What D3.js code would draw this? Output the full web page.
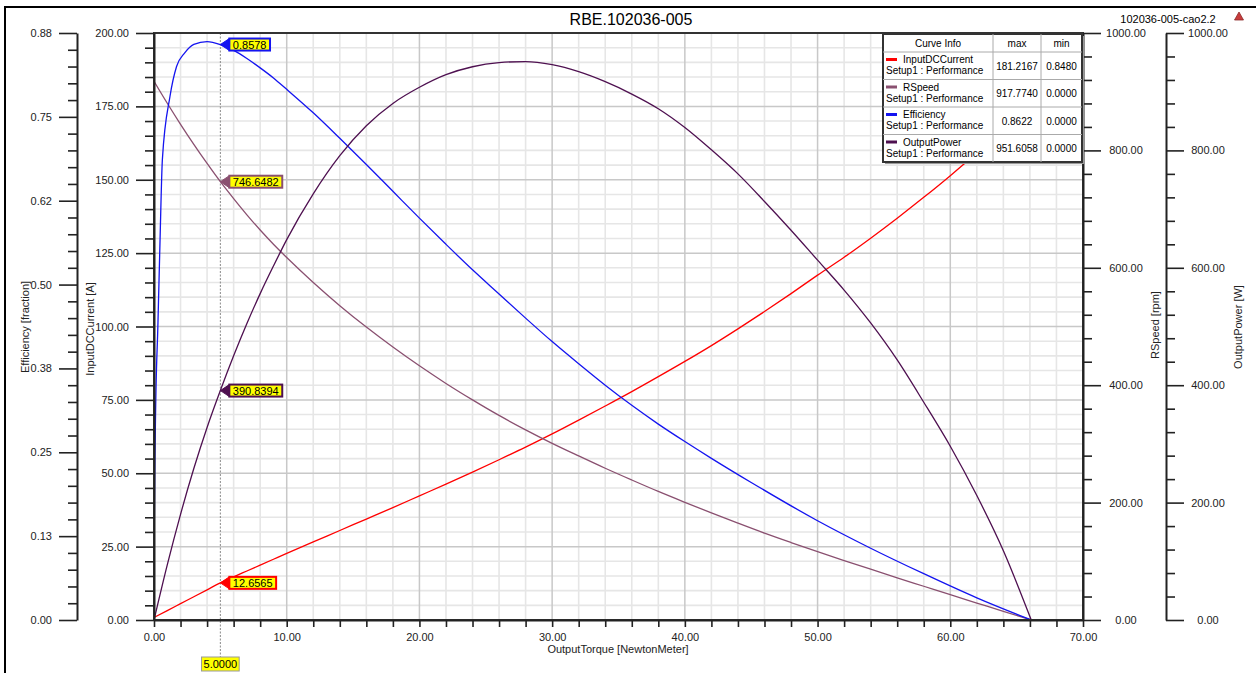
<!DOCTYPE html>
<html><head><meta charset="utf-8">
<script src="https://cdn.jsdelivr.net/npm/d3@7"></script>
<style>body{margin:0;background:#fff}svg{display:block;font-family:"Liberation Sans",Arial,sans-serif}</style>
</head><body><svg id="c" width="1256" height="673"></svg>
<script>
// ---------- DATA ----------
const torque = [0,1,2,3,4,5,6,7,8,9,10,12,14,16,18,20,22,24,26,28,30,32,34,36,38,40,42,44,46,48,50,52,54,56,58,60,62,64,66.1];
const inputDCCurrent = [0.848,3.21,5.57,7.93,10.29,12.6565,14.7,16.7,18.7,20.7,22.7,26.6,30.5,34.4,38.3,42.3,46.3,50.4,54.6,58.9,63.4,68.1,72.9,77.8,82.9,88.1,93.5,99.2,105.1,111.2,117.5,123.6,130.1,136.9,144.0,151.4,159.2,167.8,181.2167];
const rSpeed = [917.774,880.3,844.5,810.3,777.7,746.6482,717.8,690.2,664.3,640.1,617.5,575,535.5,499,465,433,403,375,348.5,324,301,279.5,258.5,238.5,219,200.5,182.5,165,148,132,116.5,101.3,86.5,71.9,57.5,43.1,28.9,14.7,0];
const outputPower = [0,94,180,258,328,390.8394,450,505,556,603,648,726,791,842,880,907.5,929,942.5,949.5,951.4,946,934,917,896,871,839,801,760,713,664,613,562,506,443,371,296,212,118,0];
const effTorque = [0,0.02,0.1,0.3,0.45,0.63,1.2,1.7,2.3,3,4,5,6,7,8,9,10,12,14,16,18,20,22,24,26,28,30,32,34,36,38,40,42,45,50,54,58,62,66.1];
const efficiency = [0,0.12,0.283,0.444,0.562,0.686,0.780,0.825,0.845,0.858,0.8622,0.8578,0.849,0.837,0.823,0.808,0.791,0.756,0.718,0.679,0.639,0.599,0.560,0.522,0.486,0.450,0.415,0.382,0.350,0.320,0.292,0.266,0.241,0.205,0.148,0.107,0.069,0.033,0];

const seriesNames = ["InputDCCurrent","RSpeed","Efficiency","OutputPower"];
const seriesColors = ["#ff0000","#8a5070","#1414f0","#4e1050"];
const legendMax = ["181.2167","917.7740","0.8622","951.6058"];
const legendMin = ["0.8480","0.0000","0.0000","0.0000"];
const legendSub = "Setup1 : Performance";

const xTicks = [0,10,20,30,40,50,60,70];
const currentTicks = [0,25,50,75,100,125,150,175,200];
const effTicks = [0,0.125,0.25,0.375,0.5,0.625,0.75,0.875];
const effTickLabels = ["0.00","0.13","0.25","0.38","0.50","0.62","0.75","0.88"];
const rightTicks = [0,200,400,600,800,1000];
const markerTorque = 5;

const title = "RBE.102036-005";
const subTitle = "102036-005-cao2.2";

// ---------- LAYOUT ----------
const svg = d3.select("#c");
const L = 154, R = 1083, T = 33, B = 620;
const x = d3.scaleLinear([0,70],[L,R]);
const yCur = d3.scaleLinear([0,200],[B,T]);
const yEff = d3.scaleLinear([0,0.875],[B,T]);
const ySpd = d3.scaleLinear([0,1000],[B,T]);
const yPow = d3.scaleLinear([0,1000],[B,T]);
const font = 11;

svg.append("rect").attr("width",1256).attr("height",673).attr("fill","#fff");
svg.append("path").attr("d","M5,673 L5,7 L1256,7").attr("fill","none").attr("stroke","#000").attr("stroke-width",2);

svg.append("text").attr("x",631).attr("y",25).attr("text-anchor","middle").attr("font-size",16).text(title);
svg.append("text").attr("x",1168).attr("y",23).attr("text-anchor","middle").attr("font-size",11).text(subTitle);
svg.append("path").attr("d","M1239,12 L1243.5,20 L1234.5,20 Z").attr("fill","#c83c3c").attr("stroke","#8a2a2a").attr("stroke-width",0.8);

// grid
const g = svg.append("g");
const minorX = d3.range(0,71,2).filter(v=>v%10!==0);
const minorY = d3.range(0,201,5).filter(v=>v%25!==0);
g.selectAll(".mx").data(minorX).join("line").attr("x1",d=>x(d)).attr("x2",d=>x(d)).attr("y1",T).attr("y2",B).attr("stroke","#e6e6e6").attr("stroke-width",1.6);
g.selectAll(".my").data(minorY).join("line").attr("y1",d=>yCur(d)).attr("y2",d=>yCur(d)).attr("x1",L).attr("x2",R).attr("stroke","#e6e6e6").attr("stroke-width",1.6);
g.selectAll(".Mx").data(xTicks).join("line").attr("x1",d=>x(d)).attr("x2",d=>x(d)).attr("y1",T).attr("y2",B).attr("stroke","#c8c8c8").attr("stroke-width",1.5);
g.selectAll(".My").data(currentTicks).join("line").attr("y1",d=>yCur(d)).attr("y2",d=>yCur(d)).attr("x1",L).attr("x2",R).attr("stroke","#c8c8c8").attr("stroke-width",1.5);

// marker vertical line
svg.append("line").attr("x1",x(markerTorque)).attr("x2",x(markerTorque)).attr("y1",T).attr("y2",657)
  .attr("stroke","#888").attr("stroke-width",1).attr("stroke-dasharray","2,1.5");

// curves
svg.append("clipPath").attr("id","clp").append("rect").attr("x",L).attr("y",T-2).attr("width",R-L).attr("height",B-T+4);
const curves = svg.append("g").attr("clip-path","url(#clp)");
function drawLine(xs, ys, yScale, color){
  const data = xs.map((t,i)=>[t,ys[i]]);
  curves.append("path").datum(data)
    .attr("d", d3.line().x(d=>x(d[0])).y(d=>yScale(d[1])).curve(d3.curveMonotoneX))
    .attr("fill","none").attr("stroke",color).attr("stroke-width",1.3);
}
drawLine(torque, inputDCCurrent, yCur, seriesColors[0]);
drawLine(torque, rSpeed, ySpd, seriesColors[1]);
drawLine(effTorque, efficiency, yEff, seriesColors[2]);
drawLine(torque, outputPower, yPow, seriesColors[3]);

function styleAxis(sel, width){
  sel.selectAll("path.domain").attr("stroke","#222").attr("stroke-width",width||2);
  sel.selectAll(".tick line").attr("stroke","#222").attr("stroke-width",1.6);
  sel.selectAll(".tick text").attr("font-size",font).attr("fill","#222").attr("font-family","Liberation Sans, Arial, sans-serif");
}

svg.append("rect").attr("x",L).attr("y",T).attr("width",R-L).attr("height",B-T).attr("fill","none").attr("stroke","#333").attr("stroke-width",2);

// X axis
const xa = svg.append("g").attr("transform",`translate(0,${B})`)
  .call(d3.axisBottom(x).tickValues(d3.range(0,71,2)).tickSize(7).tickSizeOuter(0).tickPadding(6)
  .tickFormat(d=> d%10===0 ? d3.format(".2f")(d) : ""));
styleAxis(xa);

// Efficiency axis
const effMinor = d3.range(0,36).filter(i=>i%5!==0).map(i=>i*0.025);
const ea = svg.append("g").attr("transform","translate(77,0)")
  .call(d3.axisLeft(yEff).tickValues(effTicks).tickSize(18).tickSizeOuter(0).tickPadding(7).tickFormat((d,i)=>effTickLabels[i]));
styleAxis(ea);
const eam = svg.append("g").attr("transform","translate(77,0)")
  .call(d3.axisLeft(yEff).tickValues(effMinor).tickSize(9).tickFormat(""));
eam.select("path.domain").remove(); styleAxis(eam);

// Current axis
const ca = svg.append("g").attr("transform",`translate(${L},0)`)
  .call(d3.axisLeft(yCur).tickValues(currentTicks).tickSize(18).tickSizeOuter(0).tickPadding(7).tickFormat(d3.format(".2f")));
styleAxis(ca);
const cam = svg.append("g").attr("transform",`translate(${L},0)`)
  .call(d3.axisLeft(yCur).tickValues(minorY).tickSize(9).tickFormat(""));
cam.select("path.domain").remove(); styleAxis(cam);

// RSpeed axis
const spMinor = d3.range(0,1001,40).filter(v=>v%200!==0);
const sa = svg.append("g").attr("transform",`translate(${R},0)`)
  .call(d3.axisRight(ySpd).tickValues(rightTicks).tickSize(18).tickSizeOuter(0).tickFormat(d3.format(".2f")));
styleAxis(sa);
sa.selectAll(".tick text").attr("x",43).attr("text-anchor","middle");
const sam = svg.append("g").attr("transform",`translate(${R},0)`)
  .call(d3.axisRight(ySpd).tickValues(spMinor).tickSize(9).tickFormat(""));
sam.select("path.domain").remove(); styleAxis(sam);

// OutputPower axis
const pa = svg.append("g").attr("transform","translate(1166,0)")
  .call(d3.axisRight(yPow).tickValues(rightTicks).tickSize(18).tickSizeOuter(0).tickFormat(d3.format(".2f")));
styleAxis(pa);
pa.selectAll(".tick text").attr("x",42).attr("text-anchor","middle");
const pam = svg.append("g").attr("transform","translate(1166,0)")
  .call(d3.axisRight(yPow).tickValues(spMinor).tickSize(9).tickFormat(""));
pam.select("path.domain").remove(); styleAxis(pam);

// axis labels
function vlabel(px,py,txt){
  svg.append("text").attr("transform",`translate(${px},${py}) rotate(-90)`).attr("text-anchor","middle")
    .attr("font-size",font).attr("fill","#222").text(txt);
}
vlabel(29,327,"Efficiency [fraction]");
vlabel(94,329,"InputDCCurrent [A]");
vlabel(1159,325,"RSpeed [rpm]");
vlabel(1242,327,"OutputPower [W]");
svg.append("text").attr("x",618).attr("y",653).attr("text-anchor","middle").attr("font-size",font).attr("fill","#222").text("OutputTorque [NewtonMeter]");

// markers
const mi = torque.indexOf(markerTorque);
const ei = effTorque.indexOf(markerTorque);
const markers = [
  {v: efficiency[ei], y: yEff(efficiency[ei]), c: seriesColors[2]},
  {v: rSpeed[mi], y: ySpd(rSpeed[mi]), c: seriesColors[1]},
  {v: outputPower[mi], y: yPow(outputPower[mi]), c: seriesColors[3]},
  {v: inputDCCurrent[mi], y: yCur(inputDCCurrent[mi]), c: seriesColors[0]}
];
const mx = x(markerTorque);
markers.forEach(m=>{
  const gg = svg.append("g");
  const label = d3.format(".4f")(m.v);
  const tmp = gg.append("text").attr("font-size",font).text(label);
  const w = tmp.node().getComputedTextLength();
  tmp.remove();
  gg.append("path").attr("d",`M${mx},${m.y} L${mx+9},${m.y-6} L${mx+9},${m.y+6} Z`).attr("fill",m.c).attr("stroke",m.c).attr("stroke-width",1);
  gg.append("rect").attr("x",mx+9).attr("y",m.y-6).attr("width",w+7).attr("height",12).attr("fill","#ffff00").attr("stroke",m.c).attr("stroke-width",2);
  gg.append("text").attr("x",mx+12.5).attr("y",m.y+4).attr("font-size",font).attr("fill","#000").text(label);
});
{
  const gx = svg.append("g");
  const label = d3.format(".4f")(markerTorque);
  const tmp = gx.append("text").attr("font-size",font).text(label);
  const w = tmp.node().getComputedTextLength();
  tmp.remove();
  gx.append("rect").attr("x",mx-w/2-2).attr("y",657).attr("width",w+4).attr("height",14).attr("fill","#ffff00").attr("stroke","#999").attr("stroke-width",1);
  gx.append("text").attr("x",mx).attr("y",668).attr("text-anchor","middle").attr("font-size",font).attr("fill","#000").text(label);
}

// legend table
const lx = 883, ly = 34, lw = 199, hh = 18, rh = 27.5;
const cols = [883, 993, 1041, 1082];
const lg = svg.append("g");
const lh = hh + rh*seriesNames.length;
lg.append("rect").attr("x",lx+2).attr("y",ly+2).attr("width",lw).attr("height",lh).attr("fill","#999");
lg.append("rect").attr("x",lx).attr("y",ly).attr("width",lw).attr("height",lh).attr("fill","#fff").attr("stroke","#333").attr("stroke-width",2);
[cols[1],cols[2]].forEach(cx=>lg.append("line").attr("x1",cx).attr("x2",cx).attr("y1",ly).attr("y2",ly+lh).attr("stroke","#aaa").attr("stroke-width",1));
d3.range(seriesNames.length).forEach(i=>lg.append("line").attr("x1",lx).attr("x2",lx+lw).attr("y1",ly+hh+rh*i).attr("y2",ly+hh+rh*i).attr("stroke","#aaa").attr("stroke-width",1));
const lfs = 10;
lg.append("text").attr("x",(cols[0]+cols[1])/2).attr("y",ly+13).attr("text-anchor","middle").attr("font-size",lfs).text("Curve Info");
lg.append("text").attr("x",(cols[1]+cols[2])/2).attr("y",ly+13).attr("text-anchor","middle").attr("font-size",lfs).text("max");
lg.append("text").attr("x",(cols[2]+cols[3])/2).attr("y",ly+13).attr("text-anchor","middle").attr("font-size",lfs).text("min");
seriesNames.forEach((n,i)=>{
  const ry = ly+hh+rh*i;
  lg.append("line").attr("x1",886).attr("x2",897).attr("y1",ry+7.5).attr("y2",ry+7.5).attr("stroke",seriesColors[i]).attr("stroke-width",3);
  lg.append("text").attr("x",903).attr("y",ry+11).attr("font-size",lfs).text(n);
  lg.append("text").attr("x",886).attr("y",ry+22).attr("font-size",lfs).text(legendSub);
  lg.append("text").attr("x",(cols[1]+cols[2])/2).attr("y",ry+17.5).attr("text-anchor","middle").attr("font-size",lfs).text(legendMax[i]);
  lg.append("text").attr("x",(cols[2]+cols[3])/2).attr("y",ry+17.5).attr("text-anchor","middle").attr("font-size",lfs).text(legendMin[i]);
});
</script></body></html>
